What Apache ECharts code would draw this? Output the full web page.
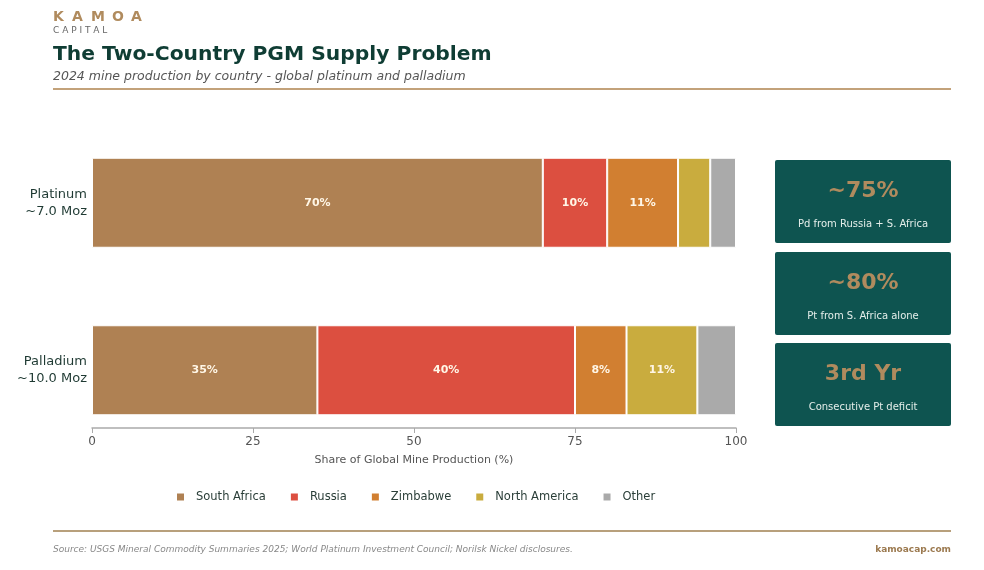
<!DOCTYPE html>
<html>
<head>
<meta charset="utf-8">
<script src="https://cdn.jsdelivr.net/npm/echarts@6/dist/echarts.min.js"></script>
<style>
  html, body { margin: 0; padding: 0; background: #fff; }
  #chart { width: 984px; height: 570px; }
</style>
</head>
<body>
<div id="chart"></div>
<script>
// data
var metals = ["Platinum\n~7.0 Moz", "Palladium\n~10.0 Moz"];
var countries = ["South Africa", "Russia", "Zimbabwe", "North America", "Other"];
var southAfrica = [70, 35];
var russia = [10, 40];
var zimbabwe = [11, 8];
var northAmerica = [5, 11];
var other = [4, 6];
var xTicks = [0, 25, 50, 75, 100];

var colors = ["#AF8153", "#DC4F40", "#D17F31", "#C9AC3E", "#AAAAAA"];
var seriesData = [southAfrica, russia, zimbabwe, northAmerica, other];

var calloutBig = ["~75%", "~80%", "3rd Yr"];
var calloutSmall = ["Pd from Russia + S. Africa", "Pt from S. Africa alone", "Consecutive Pt deficit"];

var font = "DejaVu Sans";
var tan = "#B08B5E";
var dark = "#0F3D34";

function getSeries(){
	var series = [];
	for (var i = 0; i < countries.length; i++) {
		series.push({
			name: countries[i],
			type: "bar",
			stack: "total",
			barWidth: 90,
			data: seriesData[i],
			itemStyle: { color: colors[i], borderColor: "#fff", borderWidth: 1 },
			label: {
				show: true,
				position: "inside",
				color: "#FFF6E6",
				fontFamily: font,
				fontWeight: "bold",
				fontSize: 11,
				formatter: function (p) { return p.value >= 8 ? p.value + "%" : ""; }
			}
		});
	}
	return series;
}

function getCallouts(){
	var g = [];
	var tops = [160, 252, 343];
	for (var i = 0; i < calloutBig.length; i++) {
		g.push({
			type: "rect",
			shape: { x: 775, y: tops[i], width: 176, height: 83, r: 2 },
			style: { fill: "#0E5450" }
		});
		g.push({
			type: "text", x: 863, y: tops[i] + 31,
			style: { text: calloutBig[i], fill: tan, font: "bold 22px " + font, textAlign: "center", textVerticalAlign: "middle" }
		});
		g.push({
			type: "text", x: 863, y: tops[i] + 64,
			style: { text: calloutSmall[i], fill: "#E4EEEA", font: "10px " + font, textAlign: "center", textVerticalAlign: "middle" }
		});
	}
	return g;
}

// spaced-out logo letters
function getLogo(){
	var letters = ["K", "A", "M", "O", "A"];
	var xs = [53, 72, 91, 112, 131];
	var g = [];
	for (var i = 0; i < letters.length; i++) {
		g.push({ type: "text", x: xs[i], y: 10, style: { text: letters[i], fill: tan, font: "bold 14px " + font } });
	}
	return g;
}

var myChart = echarts.init(document.getElementById("chart"));

var option = {
	animation: false,
	color: colors,
	grid: { left: 92, width: 644, top: 119, height: 335 },
	xAxis: {
		type: "value",
		min: 0,
		max: 100,
		interval: 25,
		offset: -26,
		splitLine: { show: false },
		axisLine: { show: true, lineStyle: { color: "#AAAAAA", width: 1.5 } },
		axisTick: { show: true, length: 5, lineStyle: { color: "#AAAAAA" } },
		axisLabel: {
			color: "#555", fontFamily: font, fontSize: 12, margin: 8,
			formatter: function (v) { return xTicks.indexOf(v) >= 0 ? String(v) : ""; }
		},
		name: "Share of Global Mine Production (%)",
		nameLocation: "middle",
		nameGap: 27,
		nameTextStyle: { color: "#555", fontFamily: font, fontSize: 11 }
	},
	yAxis: {
		type: "category",
		inverse: true,
		data: metals,
		axisLine: { show: false },
		axisTick: { show: false },
		axisLabel: { color: "#1F3A33", fontFamily: font, fontSize: 13, lineHeight: 17, margin: 5, align: "right" }
	},
	legend: {
		data: countries,
		left: 175,
		top: 491,
		padding: 0,
		itemWidth: 9,
		itemHeight: 9,
		itemGap: 23,
		icon: "rect",
		textStyle: { color: "#2B3F39", fontFamily: font, fontSize: 11.5, padding: [0, 0, 0, 6] }
	},
	series: getSeries(),
	graphic: [
		{ type: "text", x: 53, y: 26, style: { text: "C A P I T A L", fill: "#666", font: "9px " + font } },
		{ type: "text", x: 53, y: 45, style: { text: "The Two-Country PGM Supply Problem", fill: dark, font: "bold 20.3px " + font } },
		{ type: "text", x: 53, y: 70, style: { text: "2024 mine production by country - global platinum and palladium", fill: "#555", font: "italic 12.5px " + font } },
		{ type: "rect", shape: { x: 53, y: 88, width: 898, height: 2 }, style: { fill: "#C3A27A" } },
		{ type: "rect", shape: { x: 53, y: 530, width: 898, height: 2 }, style: { fill: "#B8A07C" } },
		{ type: "text", x: 53, y: 545, style: { text: "Source: USGS Mineral Commodity Summaries 2025; World Platinum Investment Council; Norilsk Nickel disclosures.", fill: "#888", font: "italic 9px " + font } },
		{ type: "text", x: 951, y: 545, style: { text: "kamoacap.com", fill: "#9C7A50", font: "bold 9px " + font, textAlign: "right" } }
	].concat(getLogo(), getCallouts())
};

myChart.setOption(option);
</script>
</body>
</html>
